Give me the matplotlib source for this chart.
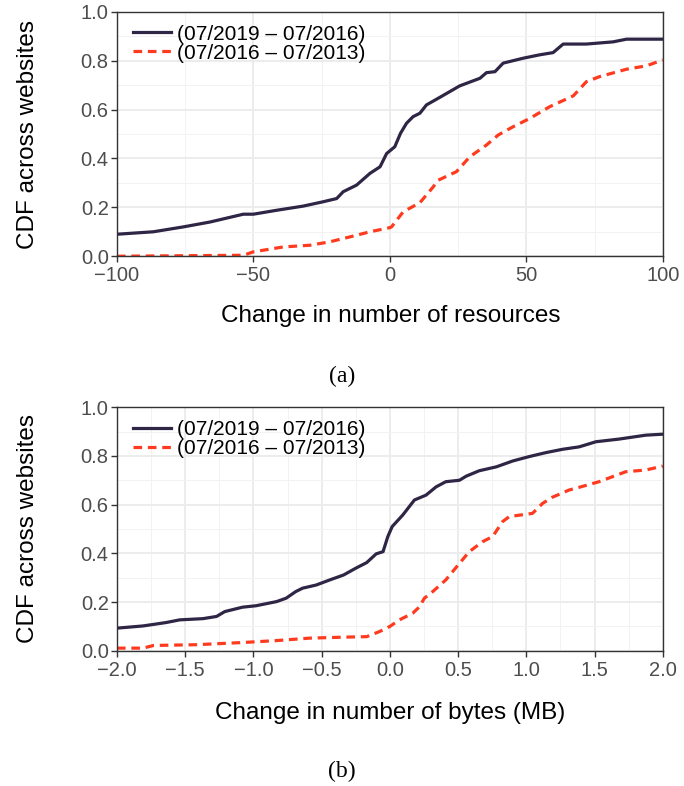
import matplotlib.pyplot as plt
from matplotlib.ticker import MultipleLocator

plt.rcParams["font.family"] = ["Liberation Sans", "DejaVu Sans"]

LABEL_NEW = "(07/2019 – 07/2016)"
LABEL_OLD = "(07/2016 – 07/2013)"

# (a) cambio en número de recursos
res_x_new = [-100, -86.7, -75.7, -65.9, -53.7, -50, -41.5, -31.8, -24.4, -19.5, -17.1,
             -12.2, -7.3, -3.6, -1.2, 1.8, 3.9, 6.1, 8.5, 11, 13.4, 18.3, 25.6, 33.0,
             35.4, 38.5, 41.5, 48.8, 54.9, 59.8, 63.5, 72, 81.8, 86.7, 100]
res_y_new = [0.09, 0.10, 0.12, 0.14, 0.172, 0.172, 0.188, 0.205, 0.223, 0.236, 0.264,
             0.291, 0.339, 0.366, 0.42, 0.448, 0.503, 0.544, 0.571, 0.585, 0.619, 0.650,
             0.697, 0.728, 0.751, 0.755, 0.79, 0.81, 0.824, 0.833, 0.868, 0.868, 0.877,
             0.888, 0.888]
res_x_old = [-100, -53.7, -50, -39.1, -29.3, -22, -14.7, -7.3, 0, 0.6, 4.9, 11, 15.9,
             17.7, 24.4, 29.3, 35.4, 39.7, 45.2, 51.3, 58.6, 67.2, 72, 76.9, 86.7, 94, 100]
res_y_old = [0.0, 0.004, 0.018, 0.038, 0.045, 0.059, 0.079, 0.10, 0.117, 0.12, 0.182,
             0.219, 0.284, 0.311, 0.346, 0.407, 0.455, 0.496, 0.53, 0.564, 0.612, 0.656,
             0.714, 0.735, 0.765, 0.779, 0.803]

# (b) cambio en bytes (MB)
byt_x_new = [-2, -1.81, -1.64, -1.54, -1.37, -1.27, -1.21, -1.08, -0.98, -0.83, -0.76,
             -0.69, -0.64, -0.54, -0.44, -0.34, -0.25, -0.17, -0.10, -0.05, -0.015, 0.017,
             0.094, 0.18, 0.265, 0.339, 0.41, 0.51, 0.56, 0.655, 0.78, 0.9, 1.02, 1.14,
             1.265, 1.387, 1.51, 1.68, 1.875, 2]
byt_y_new = [0.093, 0.102, 0.116, 0.127, 0.132, 0.141, 0.161, 0.179, 0.185, 0.202, 0.216,
             0.243, 0.257, 0.27, 0.291, 0.311, 0.339, 0.362, 0.398, 0.407, 0.469, 0.51,
             0.557, 0.619, 0.639, 0.673, 0.694, 0.70, 0.717, 0.739, 0.755, 0.779, 0.797,
             0.813, 0.827, 0.837, 0.858, 0.869, 0.885, 0.889]
byt_x_old = [-2, -1.81, -1.73, -1.42, -1.08, -0.83, -0.59, -0.34, -0.17, -0.076, 0.0,
             0.07, 0.167, 0.216, 0.253, 0.314, 0.41, 0.51, 0.582, 0.68, 0.753, 0.826,
             0.875, 1.045, 1.119, 1.19, 1.314, 1.387, 1.533, 1.729, 1.875, 2]
byt_y_old = [0.011, 0.011, 0.022, 0.025, 0.034, 0.042, 0.052, 0.056, 0.058, 0.079, 0.10,
             0.127, 0.154, 0.18, 0.216, 0.243, 0.291, 0.359, 0.407, 0.448, 0.469, 0.53,
             0.551, 0.564, 0.605, 0.63, 0.66, 0.671, 0.694, 0.735, 0.742, 0.758]

C_NEW = "#2F2545"
C_OLD = "#FF3B1F"
DASH = (0, (2.7, 1.8))

fig = plt.figure(figsize=(6.84, 7.86), dpi=100)
ax_a = fig.add_axes([0.171, 0.674, 0.798, 0.311])
ax_b = fig.add_axes([0.171, 0.172, 0.798, 0.310])


def estilo(ax, xlim, xmaj, xmin):
    ax.set_xlim(*xlim)
    ax.set_ylim(0, 1)
    ax.xaxis.set_major_locator(MultipleLocator(xmaj))
    ax.xaxis.set_minor_locator(MultipleLocator(xmin))
    ax.yaxis.set_major_locator(MultipleLocator(0.2))
    ax.yaxis.set_minor_locator(MultipleLocator(0.1))
    ax.grid(True, which="major", color="#EBEBEB", lw=1.3)
    ax.grid(True, which="minor", color="#F2F2F2", lw=0.7)
    ax.set_axisbelow(True)
    ax.tick_params(which="major", length=4, width=1, color="#333333",
                   labelsize=14.5, labelcolor="#4D4D4D", pad=2)
    ax.tick_params(axis="x", pad=3)
    ax.tick_params(which="minor", length=0)
    for s in ax.spines.values():
        s.set_color("#333333")
        s.set_linewidth(1.0)
    ax.set_ylabel("CDF across websites", fontsize=17.5)
    ax.yaxis.set_label_coords(-0.143, 0.5)
    ax.legend(loc="upper left", bbox_to_anchor=(0.03, 0.948), frameon=False,
              fontsize=15, handlelength=1.8, borderpad=0, borderaxespad=0,
              labelspacing=0, handletextpad=0.3)


ax_a.plot(res_x_new, res_y_new, color=C_NEW, lw=2.3, label=LABEL_NEW)
ax_a.plot(res_x_old, res_y_old, color=C_OLD, lw=2.3, ls=DASH, label=LABEL_OLD)
estilo(ax_a, (-100, 100), 50, 25)

ax_b.plot(byt_x_new, byt_y_new, color=C_NEW, lw=2.3, label=LABEL_NEW)
ax_b.plot(byt_x_old, byt_y_old, color=C_OLD, lw=2.3, ls=DASH, label=LABEL_OLD)
estilo(ax_b, (-2, 2), 0.5, 0.25)

fig.text(0.571, 1 - 316 / 786, "Change in number of resources", ha="center", va="center",
         fontsize=17.5)
fig.text(0.571, 1 - 713 / 786, "Change in number of bytes (MB)", ha="center", va="center",
         fontsize=17.5)
fig.text(0.5, 1 - 376 / 786, "(a)", ha="center", va="center", fontsize=17,
         family=["Liberation Serif", "DejaVu Serif"])
fig.text(0.5, 1 - 771 / 786, "(b)", ha="center", va="center", fontsize=17,
         family=["Liberation Serif", "DejaVu Serif"])

plt.savefig("out.png", dpi=100)
